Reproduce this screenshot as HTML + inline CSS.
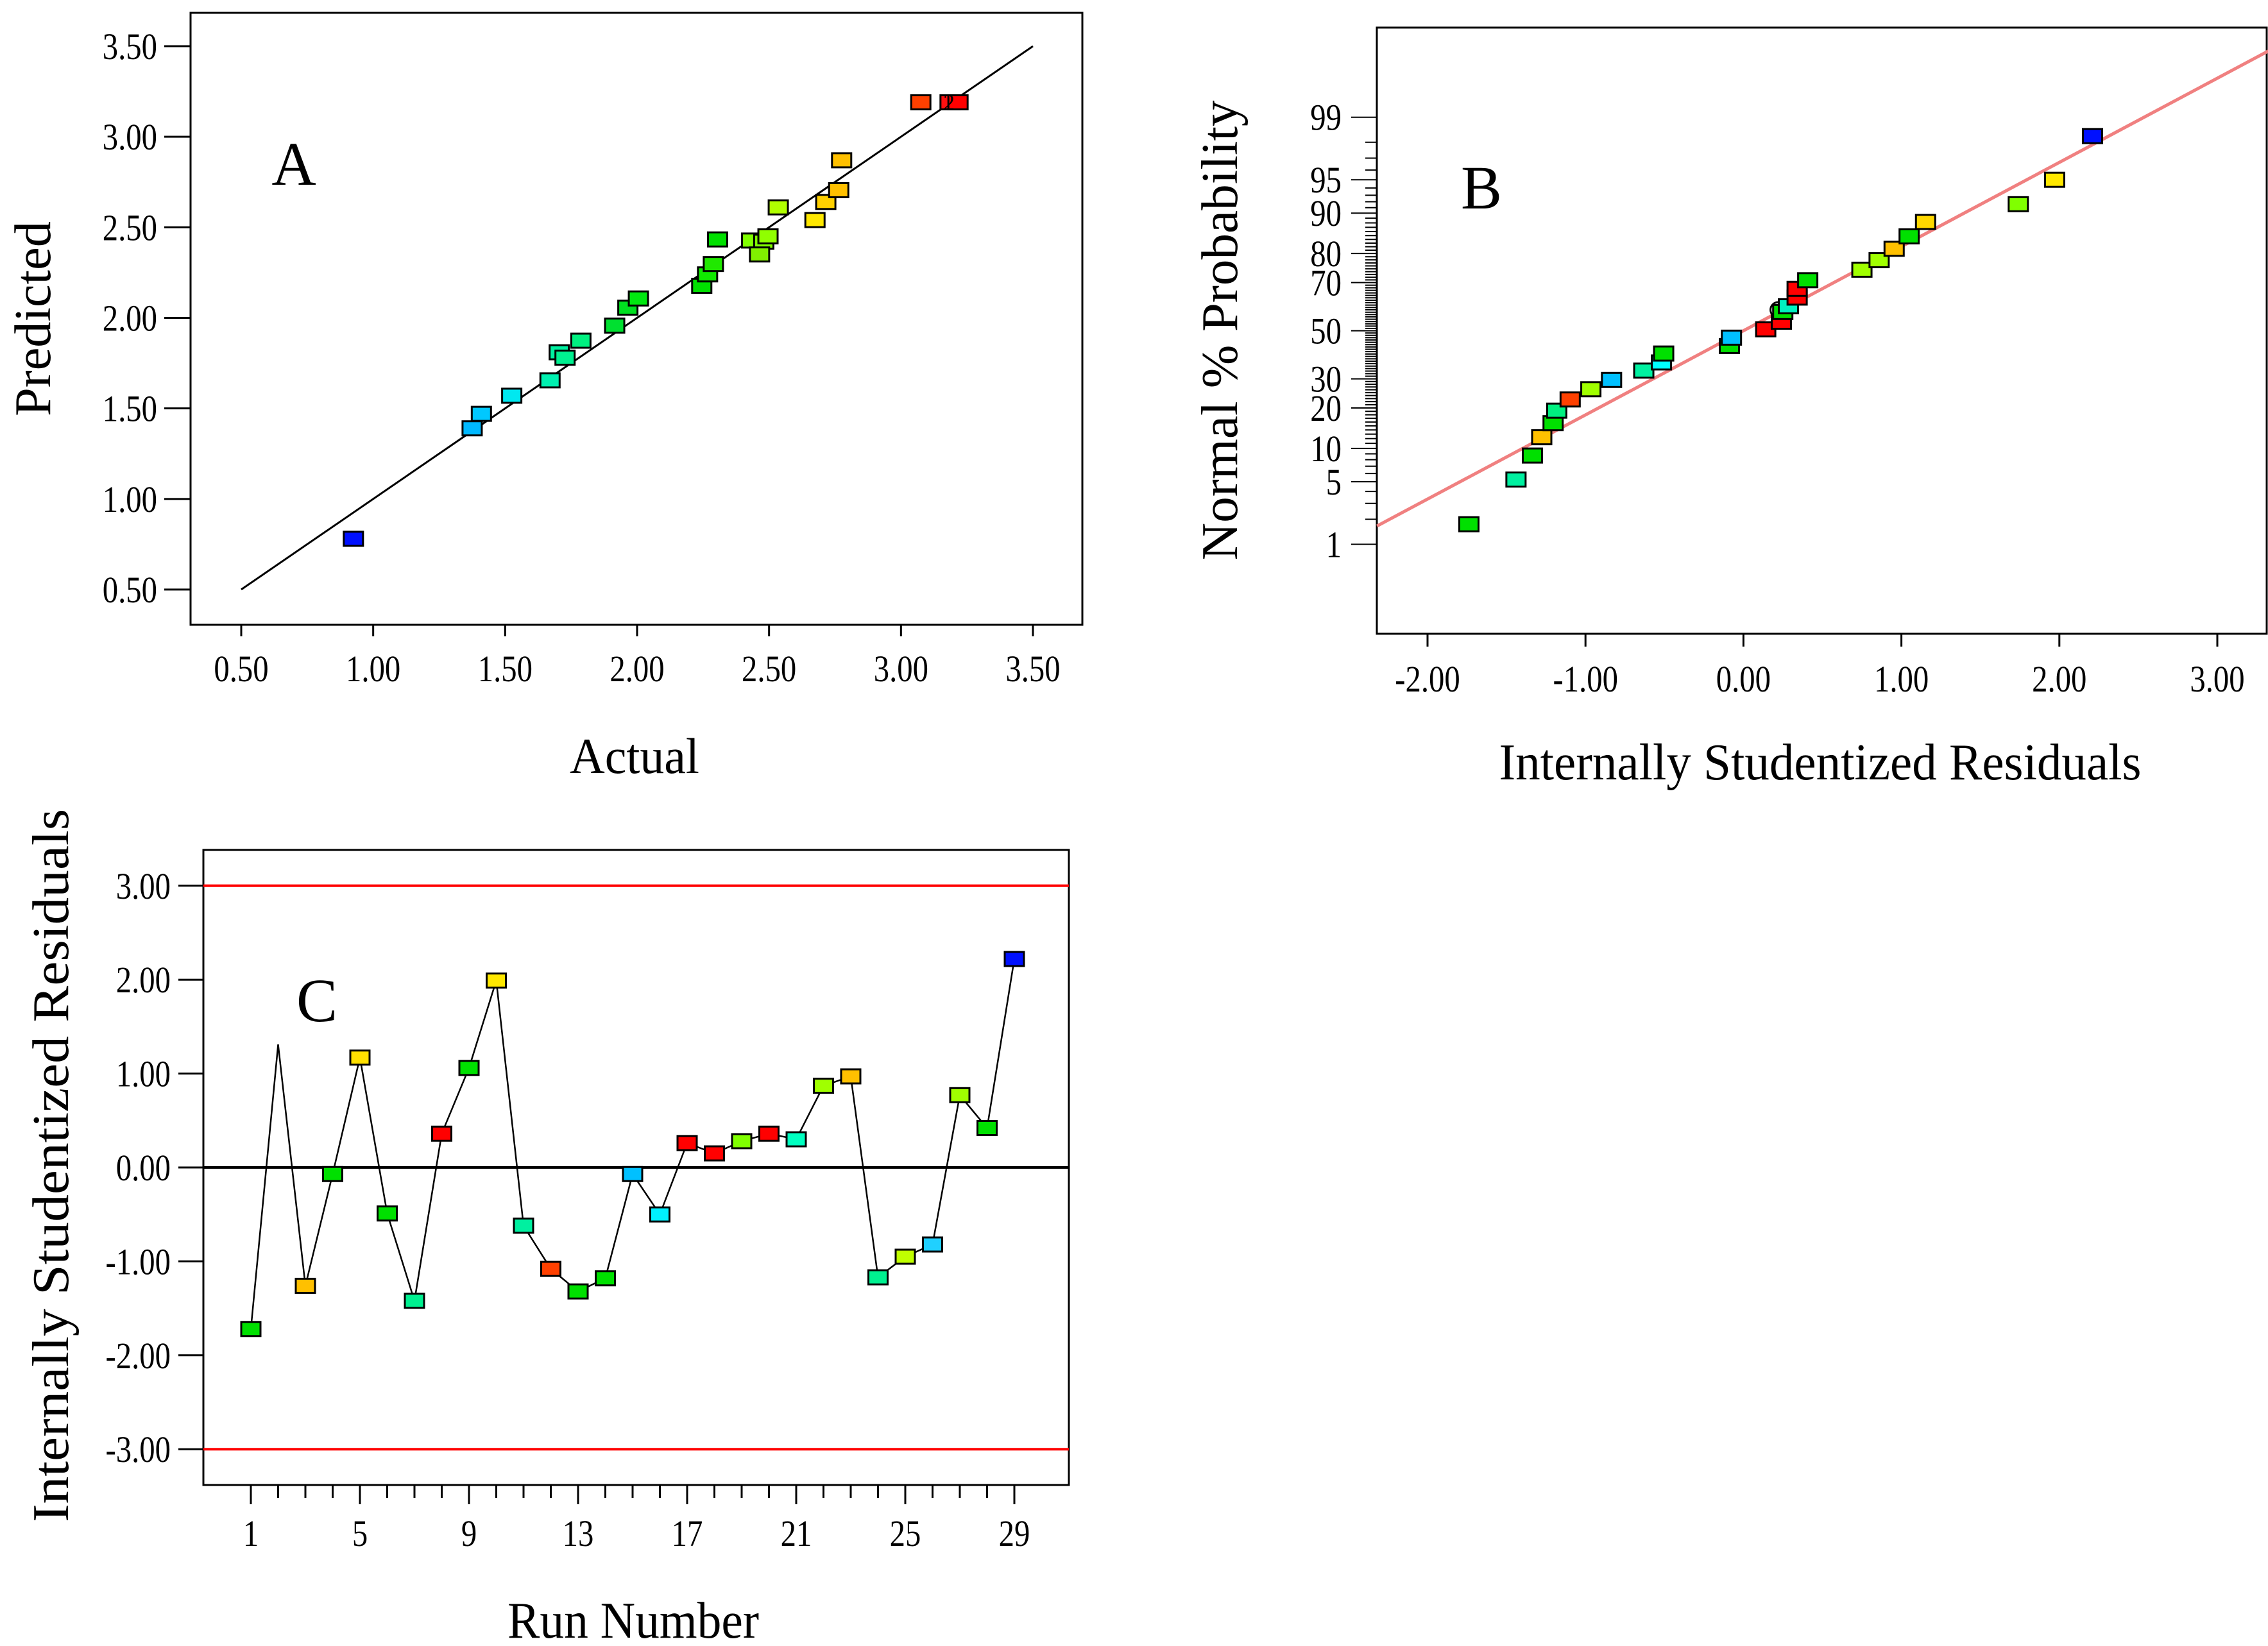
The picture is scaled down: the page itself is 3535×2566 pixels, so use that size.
<!DOCTYPE html>
<html><head><meta charset="utf-8"><title>Diagnostic plots</title>
<style>html,body{margin:0;padding:0;background:#fff}svg{display:block}text{font-family:"Liberation Serif",serif;fill:#000}</style>
</head><body>
<svg id="svg" width="3535" height="2566" viewBox="0 0 3535 2566" xmlns="http://www.w3.org/2000/svg">
<rect width="3535" height="2566" fill="#fff"/>
<g id="pa"></g>
<g id="pb"></g>
<g id="pc"></g>
</svg>
<script>
// Panel A data
const aTicks = ["0.50","1.00","1.50","2.00","2.50","3.00","3.50"];
const aTickVals = [0.5,1,1.5,2,2.5,3,3.5];
const aActual = [0.925,1.375,1.41,1.525,1.67,1.705,1.727,1.787,1.915,1.965,2.005,2.245,2.267,2.289,2.305,2.434,2.48,2.496,2.464,2.535,2.674,2.715,2.764,2.775,3.075,3.186,3.216];
const aPredicted = [0.78,1.39,1.47,1.57,1.655,1.81,1.78,1.874,1.957,2.056,2.107,2.177,2.24,2.297,2.433,2.427,2.42,2.45,2.35,2.61,2.54,2.64,2.705,2.87,3.19,3.19,3.19];
const aColors = ["#0010ff","#00b8ff","#00c8ff","#00e8f0","#00f0b0","#00f0a0","#00f090","#00f080","#00e030","#00e020","#00e810","#00e000","#10e800","#20e800","#00e000","#80ff00","#80ff00","#90ff00","#80f000","#b0ff00","#ffe800","#ffd000","#ffc000","#ffc000","#ff4000","#ff1010","#ff0000"];
// Panel B data
const bTicks = ["-2.00","-1.00","0.00","1.00","2.00","3.00"];
const bTickVals = [-2,-1,0,1,2,3];
const bProbLabels = [1,5,10,20,30,50,70,80,90,95,99];
const bResid = [-1.738,-1.44,-1.336,-1.277,-1.205,-1.182,-1.097,-0.966,-0.835,-0.631,-0.519,-0.505,-0.089,-0.076,0.141,0.24,0.249,0.285,0.34,0.34,0.407,0.75,0.859,0.954,1.049,1.153,1.74,1.97,2.21];
const bProb = [1.75,5.25,8.7,12.3,15.7,19.2,22.7,26.2,29.6,33.2,36.5,40.2,43.4,47,50.6,53.9,58.1,60.5,64.1,67.6,70.9,74.7,77.9,81.4,84.8,88.2,91.6,95,98.3];
const bColors = ["#00e000","#00f0a0","#00e000","#ffc000","#00e000","#00f080","#ff4000","#a0ff00","#00c0ff","#00f0a0","#00ffff","#00e000","#00e000","#00c0ff","#ff0000","#ff0000","#00e000","#00f0c0","#ff0000","#ff0000","#00e000","#a0ff00","#a0ff00","#ffc000","#00e000","#ffd800","#80ff00","#ffe800","#0010ff"];
const bSlope = 0.917;
// Panel C data
const cTicks = [1,5,9,13,17,21,25,29];
const cYTicks = ["-3.00","-2.00","-1.00","0.00","1.00","2.00","3.00"];
const cYVals = [-3,-2,-1,0,1,2,3];
const cRuns = [1,2,3,4,5,6,7,8,9,10,11,12,13,14,15,16,17,18,19,20,21,22,23,24,25,26,27,28,29];
const cResid = [-1.72,1.31,-1.26,-0.07,1.17,-0.49,-1.42,0.36,1.06,1.99,-0.62,-1.08,-1.32,-1.18,-0.07,-0.50,0.26,0.15,0.28,0.36,0.30,0.87,0.97,-1.17,-0.95,-0.82,0.77,0.42,2.22];
const cColors = ["#00e000",null,"#ffc000","#00e000","#ffe000","#00e000","#00f090","#ff0000","#00e000","#ffe800","#00f0a0","#ff4000","#00e000","#00e000","#00c0ff","#00f0ff","#ff0000","#ff0000","#80ff00","#ff0000","#00ffc0","#a0ff00","#ffc000","#00f090","#c0ff00","#20d0ff","#a0ff00","#00e000","#0010ff"];

const NS="http://www.w3.org/2000/svg";
function mk(parent,tag,attrs,txt){const e=document.createElementNS(NS,tag);for(const k in attrs)e.setAttribute(k,attrs[k]);if(txt!==undefined)e.textContent=txt;parent.appendChild(e);return e;}
function tick(g,x,y,anchor,txt){return mk(g,'text',{x:0,y:0,'font-size':58,'text-anchor':anchor,transform:'translate('+x+','+y+') scale(0.84,1)'},txt);}
function marker(g,x,y,c){const r=mk(g,'rect',{x:x-15,y:y-11,width:30,height:22,fill:c,stroke:'#000','stroke-width':3});


return r;}
function ninv(p){const a=[-39.69683028665376,220.9460984245205,-275.9285104469687,138.357751867269,-30.66479806614716,2.506628277459239],b=[-54.47609879822406,161.5858368580409,-155.6989798598866,66.80131188771972,-13.28068155288572],c=[-0.007784894002430293,-0.3223964580411365,-2.400758277161838,-2.549732539343734,4.374664141464968,2.938163982698783],d=[0.007784695709041462,0.3224671290700398,2.445134137142996,3.754408661907416];const pl=0.02425;let q,r;
if(p<pl){q=Math.sqrt(-2*Math.log(p));return(((((c[0]*q+c[1])*q+c[2])*q+c[3])*q+c[4])*q+c[5])/((((d[0]*q+d[1])*q+d[2])*q+d[3])*q+1);}
if(p>1-pl){q=Math.sqrt(-2*Math.log(1-p));return-(((((c[0]*q+c[1])*q+c[2])*q+c[3])*q+c[4])*q+c[5])/((((d[0]*q+d[1])*q+d[2])*q+d[3])*q+1);}
q=p-0.5;r=q*q;return(((((a[0]*r+a[1])*r+a[2])*r+a[3])*r+a[4])*r+a[5])*q/(((((b[0]*r+b[1])*r+b[2])*r+b[3])*r+b[4])*r+1);}

// ---------- Panel A ----------
(function(){
const g=document.getElementById('pa');
const ax=v=>376+(v-0.5)*(1610-376)/3, ay=v=>919-(v-0.5)*(919-72)/3;
const box=mk(g,'rect',{x:297,y:20,width:1390,height:954,fill:'none',stroke:'#000','stroke-width':3});


aTickVals.forEach((v,i)=>{
 mk(g,'line',{x1:ax(v),y1:974,x2:ax(v),y2:992,stroke:'#000','stroke-width':3});
 const t=tick(g,ax(v),1062,'middle',aTicks[i]);
 
 
 mk(g,'line',{x1:256,y1:ay(v),x2:297,y2:ay(v),stroke:'#000','stroke-width':3});
 const u=tick(g,245,ay(v)+20,'end',aTicks[i]);
 
 
});
const ln=mk(g,'line',{x1:ax(0.5),y1:ay(0.5),x2:ax(3.5),y2:ay(3.5),stroke:'#000','stroke-width':3});


aActual.forEach((v,i)=>marker(g,ax(v),ay(aPredicted[i]),aColors[i]));
mk(g,'text',{x:ax(3.16),y:ay(3.19)+12,'font-size':36},'2');
const A=mk(g,'text',{x:458,y:288,'font-size':96,'text-anchor':'middle'},'A');


const xt=mk(g,'text',{x:989,y:1205,'font-size':78,'text-anchor':'middle',textLength:202,lengthAdjust:'spacingAndGlyphs'},'Actual');


const yt=mk(g,'text',{x:0,y:0,'font-size':80,'text-anchor':'middle',textLength:304,lengthAdjust:'spacingAndGlyphs',transform:'translate(78,497) rotate(-90)'},'Predicted');


})();

// ---------- Panel B ----------
(function(){
const g=document.getElementById('pb');
const bx=v=>2225+(v+2)*246.2, bz=z=>515.6-z*143.1, bp=p=>bz(ninv(p/100));
const box=mk(g,'rect',{x:2146,y:43,width:1387,height:945,fill:'none',stroke:'#000','stroke-width':3});


bTickVals.forEach((v,i)=>{
 mk(g,'line',{x1:bx(v),y1:988,x2:bx(v),y2:1008,stroke:'#000','stroke-width':3});
 const t=tick(g,bx(v),1078,'middle',bTicks[i]);
 
 
});
for(let p=1;p<=99;p++){
 const major=bProbLabels.includes(p);
 mk(g,'line',{x1:major?2106:2128,y1:bp(p),x2:2146,y2:bp(p),stroke:'#000','stroke-width':2});
 if(major){const t=tick(g,2091,bp(p)+20,'end',String(p));
 
 }
}
const xl=-2.32,xr=3.33;
const ln=mk(g,'line',{x1:bx(xl),y1:bz(bSlope*xl),x2:bx(xr),y2:bz(bSlope*xr),stroke:'#f08080','stroke-width':5});


mk(g,'circle',{cx:bx(0.22),cy:bp(59),r:12,fill:'none',stroke:'#000','stroke-width':3});
bResid.forEach((v,i)=>marker(g,bx(v),bp(bProb[i]),bColors[i]));
const B=mk(g,'text',{x:2309,y:325,'font-size':96,'text-anchor':'middle'},'B');


const xt=mk(g,'text',{x:2837,y:1215,'font-size':80,'text-anchor':'middle',textLength:1001,lengthAdjust:'spacingAndGlyphs'},'Internally Studentized Residuals');


const yt=mk(g,'text',{x:0,y:0,'font-size':80,'text-anchor':'middle',textLength:717,lengthAdjust:'spacingAndGlyphs',transform:'translate(1928,515) rotate(-90)'},'Normal % Probability');


})();

// ---------- Panel C ----------
(function(){
const g=document.getElementById('pc');
const cx=r=>391+(r-1)*(1581-391)/28, cy=v=>1820-v*146.4;
const box=mk(g,'rect',{x:317,y:1325,width:1349,height:990,fill:'none',stroke:'#000','stroke-width':3});


for(let r=1;r<=29;r++){const maj=cTicks.includes(r);mk(g,'line',{x1:cx(r),y1:2315,x2:cx(r),y2:maj?2345:2335,stroke:'#000','stroke-width':3});}
cTicks.forEach(r=>{const t=tick(g,cx(r),2410,'middle',String(r));
 
 });
cYVals.forEach((v,i)=>{mk(g,'line',{x1:278,y1:cy(v),x2:317,y2:cy(v),stroke:'#000','stroke-width':3});
 const t=tick(g,266,cy(v)+20,'end',cYTicks[i]);
 
 });
[3,-3].forEach(v=>{const l=mk(g,'line',{x1:317,y1:cy(v),x2:1666,y2:cy(v),stroke:'#ff0000','stroke-width':4});
 
 });
const z=mk(g,'line',{x1:317,y1:cy(0),x2:1666,y2:cy(0),stroke:'#000','stroke-width':4});


const pl=mk(g,'polyline',{points:cRuns.map((r,i)=>cx(r)+','+cy(cResid[i])).join(' '),fill:'none',stroke:'#000','stroke-width':2.5});


cRuns.forEach((r,i)=>{if(cColors[i])marker(g,cx(r),cy(cResid[i]),cColors[i]);});
const C=mk(g,'text',{x:494,y:1592,'font-size':96,'text-anchor':'middle'},'C');


const xt=mk(g,'text',{x:987,y:2553,'font-size':80,'text-anchor':'middle',textLength:392,lengthAdjust:'spacingAndGlyphs'},'Run Number');


const yt=mk(g,'text',{x:0,y:0,'font-size':80,'text-anchor':'middle',textLength:1112,lengthAdjust:'spacingAndGlyphs',transform:'translate(106,1817) rotate(-90)'},'Internally Studentized Residuals');


})();
</script>
</body></html>
